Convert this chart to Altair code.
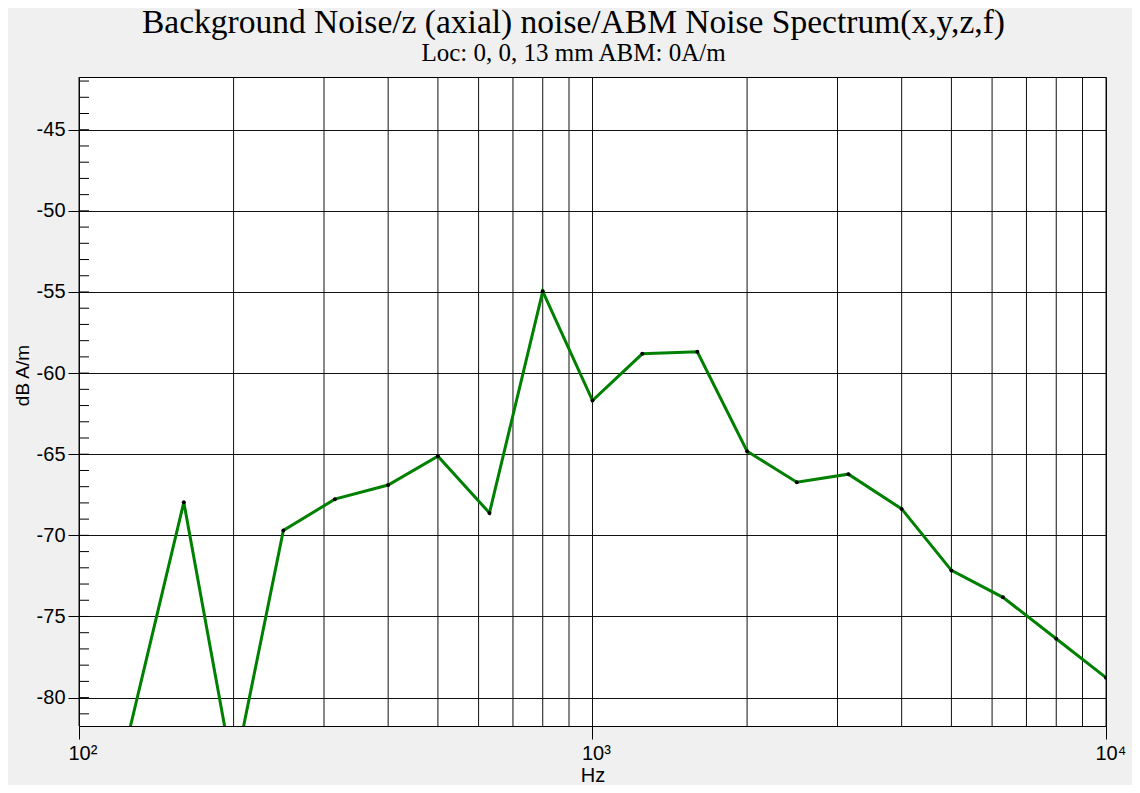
import altair as alt
import pandas as pd

# Third-octave band centre frequencies (Hz) and measured levels (dB A/m)
freqs = [125, 160, 200, 250, 315, 400, 500, 630, 800, 1000,
         1250, 1600, 2000, 2500, 3150, 4000, 5000, 6300, 8000, 10000]
levels = [-82.2, -67.96, -84.8, -69.7, -67.77, -66.9, -65.12, -68.62, -54.96, -61.69,
          -58.81, -58.69, -64.81, -66.73, -66.23, -68.37, -72.16, -73.82, -76.37, -78.77]

# Axis / grid definitions
x_major = [100, 1000, 10000]
x_grid = [100, 200, 300, 400, 500, 600, 700, 800, 900,
          1000, 2000, 3000, 4000, 5000, 6000, 7000, 8000, 9000, 10000]
y_major = [-80, -75, -70, -65, -60, -55, -50, -45]
y_minor = list(range(-81, -41))

title_text = "Background Noise/z (axial) noise/ABM Noise Spectrum(x,y,z,f)"
subtitle_text = "Loc: 0, 0, 13 mm ABM: 0A/m"

df = pd.DataFrame({"freq": freqs, "level": levels})
grid_df = pd.DataFrame({"freq": x_grid})
minor_df = pd.DataFrame({"level": y_minor})

xscale = alt.Scale(type="log", domain=[100, 10000], nice=False)
yscale = alt.Scale(domain=[-81.75, -41.75], nice=False, zero=False)

xaxis = alt.Axis(
    values=x_major,
    labelExpr="datum.value == 100 ? '10²' : (datum.value == 1000 ? '10³' : '10⁴')",
    grid=False, tickSize=13, tickColor="black", domainColor="black",
    labelFont="Liberation Sans", labelFontSize=20, labelColor="black",
    labelPadding=4, labelAlign="left", labelOffset=-11, labelFlush=False,
    title="Hz", titleFont="Liberation Sans", titleFontSize=20,
    titleFontWeight="normal", titleColor="black", titlePadding=2,
)
yaxis = alt.Axis(
    values=y_major, grid=True, gridColor="#111111", gridOpacity=1, gridWidth=1,
    labelExpr="'' + datum.value",
    tickSize=11, tickColor="black", domainColor="black",
    labelFont="Liberation Sans", labelFontSize=20, labelColor="black",
    labelPadding=3,
    title="dB A/m", titleFont="Liberation Sans", titleFontSize=19,
    titleFontWeight="normal", titleColor="black", titleX=-47, titleY=298,
)

xgrid = alt.Chart(grid_df).mark_rule(color="#111111", strokeWidth=1).encode(
    x=alt.X("freq:Q", scale=xscale, axis=xaxis)
)

yminor = alt.Chart(minor_df).mark_rule(color="black", strokeWidth=1).encode(
    y=alt.Y("level:Q", scale=yscale, axis=yaxis),
    x=alt.value(0), x2=alt.value(10)
)

line = alt.Chart(df).mark_line(color="#008000", strokeWidth=3, clip=True).encode(
    x=alt.X("freq:Q", scale=xscale, axis=xaxis),
    y=alt.Y("level:Q", scale=yscale, axis=yaxis),
)

pts = alt.Chart(df).mark_point(filled=True, color="black", size=16, opacity=1, clip=True).encode(
    x=alt.X("freq:Q", scale=xscale, axis=xaxis),
    y=alt.Y("level:Q", scale=yscale, axis=yaxis),
)

chart = alt.layer(xgrid, yminor, line, pts).properties(
    width=1027,
    height=649,
    title=alt.TitleParams(
        text=title_text, subtitle=subtitle_text,
        font="Liberation Serif", fontSize=33.5, fontWeight="normal", color="black",
        subtitleFont="Liberation Serif", subtitleFontSize=25, subtitleColor="black",
        subtitlePadding=0, anchor="middle", frame="group", dx=-19, offset=10,
    ),
    autosize=alt.AutoSizeParams(type="none"),
    padding={"left": 71, "top": 69, "right": 26, "bottom": 59},
    background="#f0f0f0",
).configure_view(
    fill="white", stroke="black", strokeWidth=1
)

chart.save("out.html", embed_options={"renderer": "svg", "actions": False})
